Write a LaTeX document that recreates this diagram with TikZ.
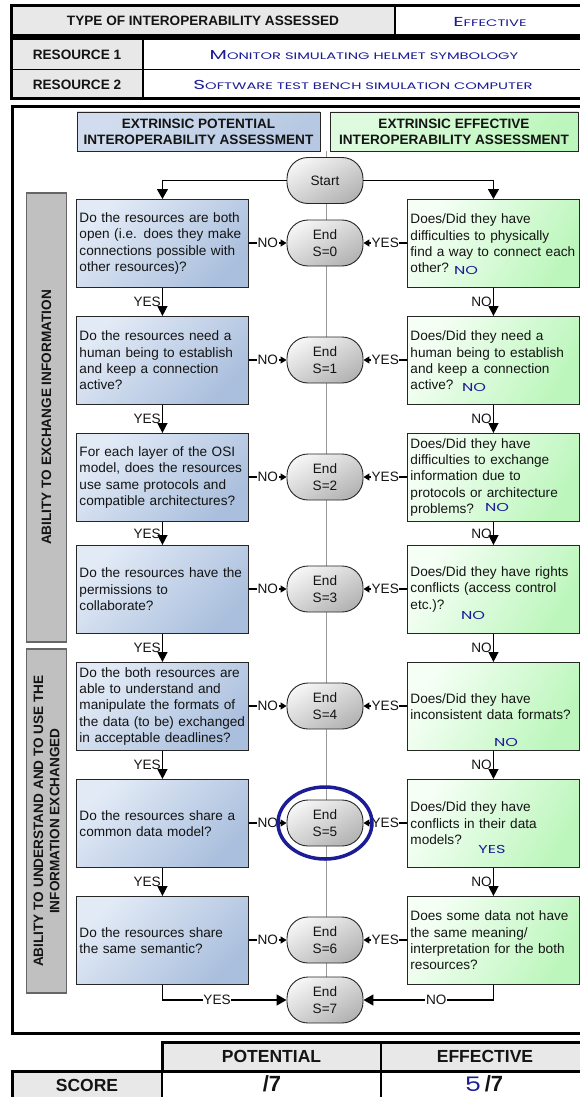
\documentclass[tikz,border=0pt]{standalone}
\usepackage{fontspec}
\setmainfont{Liberation Sans}
\newfontfamily\handfont{Poppins}
\usetikzlibrary{arrows.meta}
\definecolor{hblue}{RGB}{28,28,150}
\definecolor{cellgray}{RGB}{232,232,232}
\definecolor{bluetop}{RGB}{226,234,246}
\definecolor{bluebot}{RGB}{170,191,221}
\definecolor{greentop}{RGB}{246,255,246}
\definecolor{greenbot}{RGB}{188,246,188}
\definecolor{endtop}{RGB}{244,244,244}
\definecolor{endbot}{RGB}{180,180,180}
\definecolor{catgray}{RGB}{192,192,192}
\definecolor{txt}{RGB}{20,20,20}
\newcommand{\hw}[2]{\scalebox{1.55}[1]{\handfont\fontsize{13}{16}\selectfont #1\fontsize{9.5}{16}\selectfont #2}}
\newcommand{\hwn}[1]{\scalebox{1.4}[1]{\handfont\fontsize{11.5}{14}\selectfont #1}}
\begin{document}
\begin{tikzpicture}[x=1pt,y=-1pt,
  every node/.style={text=txt, font=\fontsize{13.6}{16.4}\selectfont},
  bf/.style={font=\bfseries\fontsize{13.6}{16.2}\selectfont},
  bigbf/.style={font=\bfseries\fontsize{17.5}{20}\selectfont},
  qbox/.style={draw=black!85, line width=0.9pt, text width=166pt, inner xsep=3pt, inner ysep=0pt, minimum height=88pt, align=left, anchor=north west},
  lq/.style={qbox, top color=bluetop, bottom color=bluebot, shading angle=45},
  rq/.style={qbox, top color=greentop, bottom color=greenbot, shading angle=60},
  endn/.style={draw=black!85, line width=0.9pt, rounded corners=21pt, minimum width=76pt, minimum height=46pt, inner sep=0pt, align=center, top color=endtop, bottom color=endbot, shading angle=30, font=\fontsize{13.6}{17}\selectfont},
  hdr/.style={draw=black!85, line width=0.9pt, minimum height=39pt, align=center, inner sep=0pt, bf},
  catbar/.style={draw=black!60, line width=1.3pt, fill=catgray, minimum width=40pt, inner sep=0pt},
  con/.style={line width=1.4pt, draw=black},
  bigarr/.style={con, -{Triangle[length=10pt,width=11pt]}},
  darr/.style={con, -{Triangle[length=10pt,width=10pt]}},
  sarr/.style={con, -{Triangle[length=6pt,width=7pt]}},
  lab/.style={fill=white, inner sep=0.6pt},
  hand/.style={text=hblue, inner sep=0pt},
  thickb/.style={line width=3pt, draw=black},
  thinb/.style={line width=1.8pt, draw=black},
]
\useasboundingbox (0,0) rectangle (579,1097);
\fill[white] (0,0) rectangle (579,1097);

% top table
\fill[cellgray] (11,6) rectangle (395,36);
\draw[thinb] (395,6) -- (395,36);
\draw[thickb] (11,6) rectangle (592,36);
\node[bf] (t1) at (203,21) {TYPE OF INTEROPERABILITY ASSESSED};
\node[hand] (t1v) at (490,21.5) {\hw{E}{FFECTIVE}};

% resource table
\fill[cellgray] (11,39) rectangle (143,99);
\draw[thinb] (143,39) -- (143,99);
\draw[thinb] (11,69.5) -- (592,69.5);
\draw[thickb] (11,39) rectangle (592,99);
\node[bf] (r1) at (77,54.5) {RESOURCE 1};
\node[bf] (r2) at (77,84.5) {RESOURCE 2};
\node[hand] (r1v) at (364,55) {\hw{M}{ONITOR SIMULATING HELMET SYMBOLOGY}};
\node[hand] (r2v) at (363,85) {\hw{S}{OFTWARE TEST BENCH SIMULATION COMPUTER}};

% main frame
\draw[thickb] (12,106.5) rectangle (592,1033);

% centre line
\draw[black!40, line width=0.8pt] (326,151) -- (326,1023);

% headers
\node[hdr, minimum width=243pt, top color=bluetop!70!bluebot, bottom color=bluebot!85, shading angle=45] (hp) at (198.5,131.5) {EXTRINSIC POTENTIAL\\INTEROPERABILITY ASSESSMENT};
\node[hdr, minimum width=248pt, top color=greentop!60!greenbot, bottom color=greenbot, shading angle=45] (he) at (454,131.5) {EXTRINSIC EFFECTIVE\\INTEROPERABILITY ASSESSMENT};

% category bars
\node[catbar, minimum height=449pt] (c1) at (46.5,417.5) {};
\node[bf, rotate=90] (c1t) at (c1.center) {ABILITY TO EXCHANGE INFORMATION};
\node[catbar, minimum height=344pt] (c2) at (46.5,821) {};
\node[bf, rotate=90, align=center] (c2t) at (c2.center) {ABILITY TO UNDERSTAND AND TO USE THE\\INFORMATION EXCHANGED};

% start
\node[endn] (start) at (325,180.5) {Start};

% row 1
\node[lq] (L1) at (76,199) {Do the resources are both\\open (i.e. does they make\\connections possible with\\other resources)?};
\node[rq] (R1) at (407,199) {Does/Did they have\\difficulties to physically\\find a way to connect each\\other?};
\node[endn] (S0) at (325,243) {End\\S=0};
% row 2
\node[lq] (L2) at (76,316) {Do the resources need a\\human being to establish\\and keep a connection\\active?};
\node[rq] (R2) at (407,316) {Does/Did they need a\\human being to establish\\and keep a connection\\active?};
\node[endn] (S1) at (325,360) {End\\S=1};
% row 3
\node[lq] (L3) at (76,433) {For each layer of the OSI\\model, does the resources\\use same protocols and\\compatible architectures?};
\node[rq] (R3) at (407,433) {Does/Did they have\\difficulties to exchange\\information due to\\protocols or architecture\\problems?};
\node[endn] (S2) at (325,477) {End\\S=2};
% row 4
\node[lq] (L4) at (76,545) {Do the resources have the\\permissions to\\collaborate?};
\node[rq] (R4) at (407,545) {Does/Did they have rights\\conflicts (access control\\etc.)?};
\node[endn] (S3) at (325,589) {End\\S=3};
% row 5
\node[lq] (L5) at (76,662) {Do the both resources are\\able to understand and\\manipulate the formats of\\the data (to be) exchanged\\in acceptable deadlines?};
\node[rq] (R5) at (407,662) {Does/Did they have\\inconsistent data formats?};
\node[endn] (S4) at (325,706) {End\\S=4};
% row 6
\node[lq] (L6) at (76,779) {Do the resources share a\\common data model?};
\node[rq] (R6) at (407,779) {Does/Did they have\\conflicts in their data\\models?};
\node[endn] (S5) at (325,823) {End\\S=5};
% row 7
\node[lq] (L7) at (76,896) {Do the resources share\\the same semantic?};
\node[rq] (R7) at (407,896) {Does some data not have\\the same meaning/\\interpretation for the both\\resources?};
\node[endn] (S6) at (325,940) {End\\S=6};
% final end
\node[endn] (S7) at (325,1000) {End\\S=7};

% handwritten answers
\node[hand] (a1) at (466,270) {\hwn{NO}};
\node[hand] (a2) at (474,387) {\hwn{NO}};
\node[hand] (a3) at (497,507) {\hwn{NO}};
\node[hand] (a4) at (473,615) {\hwn{NO}};
\node[hand] (a5) at (506,742) {\hwn{NO}};
\node[hand] (a6) at (492,849) {\hwn{YES}};

% start arrows
\draw[bigarr] (start.west) -| (L1.north);
\draw[bigarr] (start.east) -| (R1.north);

% vertical arrows
\draw[darr] (L1.south) -- node[left, inner sep=1pt] (y1) {YES} (L2.north);
\draw[darr] (L2.south) -- node[left, inner sep=1pt] (y2) {YES} (L3.north);
\draw[darr] (L3.south) -- node[left, inner sep=1pt] (y3) {YES} (L4.north);
\draw[darr] (L4.south) -- node[left, inner sep=1pt] (y4) {YES} (L5.north);
\draw[darr] (L5.south) -- node[left, inner sep=1pt] (y5) {YES} (L6.north);
\draw[darr] (L6.south) -- node[left, inner sep=1pt] (y6) {YES} (L7.north);
\draw[darr] (R1.south) -- node[left, inner sep=1pt] (n1) {NO} (R2.north);
\draw[darr] (R2.south) -- node[left, inner sep=1pt] (n2) {NO} (R3.north);
\draw[darr] (R3.south) -- node[left, inner sep=1pt] (n3) {NO} (R4.north);
\draw[darr] (R4.south) -- node[left, inner sep=1pt] (n4) {NO} (R5.north);
\draw[darr] (R5.south) -- node[left, inner sep=1pt] (n5) {NO} (R6.north);
\draw[darr] (R6.south) -- node[left, inner sep=1pt] (n6) {NO} (R7.north);

% side arrows to End nodes
\draw[sarr] (L1.east |- S0.west) -- node[lab] {NO} (S0.west);
\draw[sarr] (L2.east |- S1.west) -- node[lab] {NO} (S1.west);
\draw[sarr] (L3.east |- S2.west) -- node[lab] {NO} (S2.west);
\draw[sarr] (L4.east |- S3.west) -- node[lab] {NO} (S3.west);
\draw[sarr] (L5.east |- S4.west) -- node[lab] {NO} (S4.west);
\draw[sarr] (L6.east |- S5.west) -- node[lab] {NO} (S5.west);
\draw[sarr] (L7.east |- S6.west) -- node[lab] {NO} (S6.west);
\draw[sarr] (R1.west |- S0.east) -- node[lab] {YES} (S0.east);
\draw[sarr] (R2.west |- S1.east) -- node[lab] {YES} (S1.east);
\draw[sarr] (R3.west |- S2.east) -- node[lab] {YES} (S2.east);
\draw[sarr] (R4.west |- S3.east) -- node[lab] {YES} (S3.east);
\draw[sarr] (R5.west |- S4.east) -- node[lab] {YES} (S4.east);
\draw[sarr] (R6.west |- S5.east) -- node[lab] {YES} (S5.east);
\draw[sarr] (R7.west |- S6.east) -- node[lab] {YES} (S6.east);

% final arrows
\draw[bigarr] (L7.south) |- node[lab, pos=0.72] {YES} (S7.west);
\draw[bigarr] (R7.south) |- node[lab, pos=0.72] {NO} (S7.east);

% ellipse around S=5
\draw[hblue, line width=3.5pt] (S5.center) ellipse [x radius=47pt, y radius=36pt];

% score table
\fill[cellgray] (162,1042) rectangle (592,1071);
\fill[cellgray] (12,1071) rectangle (162,1100);
\draw[thinb] (381,1042) -- (381,1100);
\draw[thinb] (162,1071) -- (162,1100);
\draw[thickb] (162,1071) -- (162,1042) -- (592,1042);
\draw[thickb] (12,1100) -- (12,1071) -- (592,1071);
\node[bigbf] (sp) at (271.5,1056.5) {POTENTIAL};
\node[bigbf] (se) at (485,1056.5) {EFFECTIVE};
\node[bigbf] (ss) at (87,1085) {SCORE};
\node[font=\bfseries\fontsize{22}{24}\selectfont] (sv1) at (272,1084) {/7};
\node[font=\bfseries\fontsize{22}{24}\selectfont] (sv2) at (484,1084) {\textcolor{hblue}{\scalebox{1.3}[1]{\handfont\mdseries\fontsize{20}{22}\selectfont 5}}\,/7};
\end{tikzpicture}
\end{document}
